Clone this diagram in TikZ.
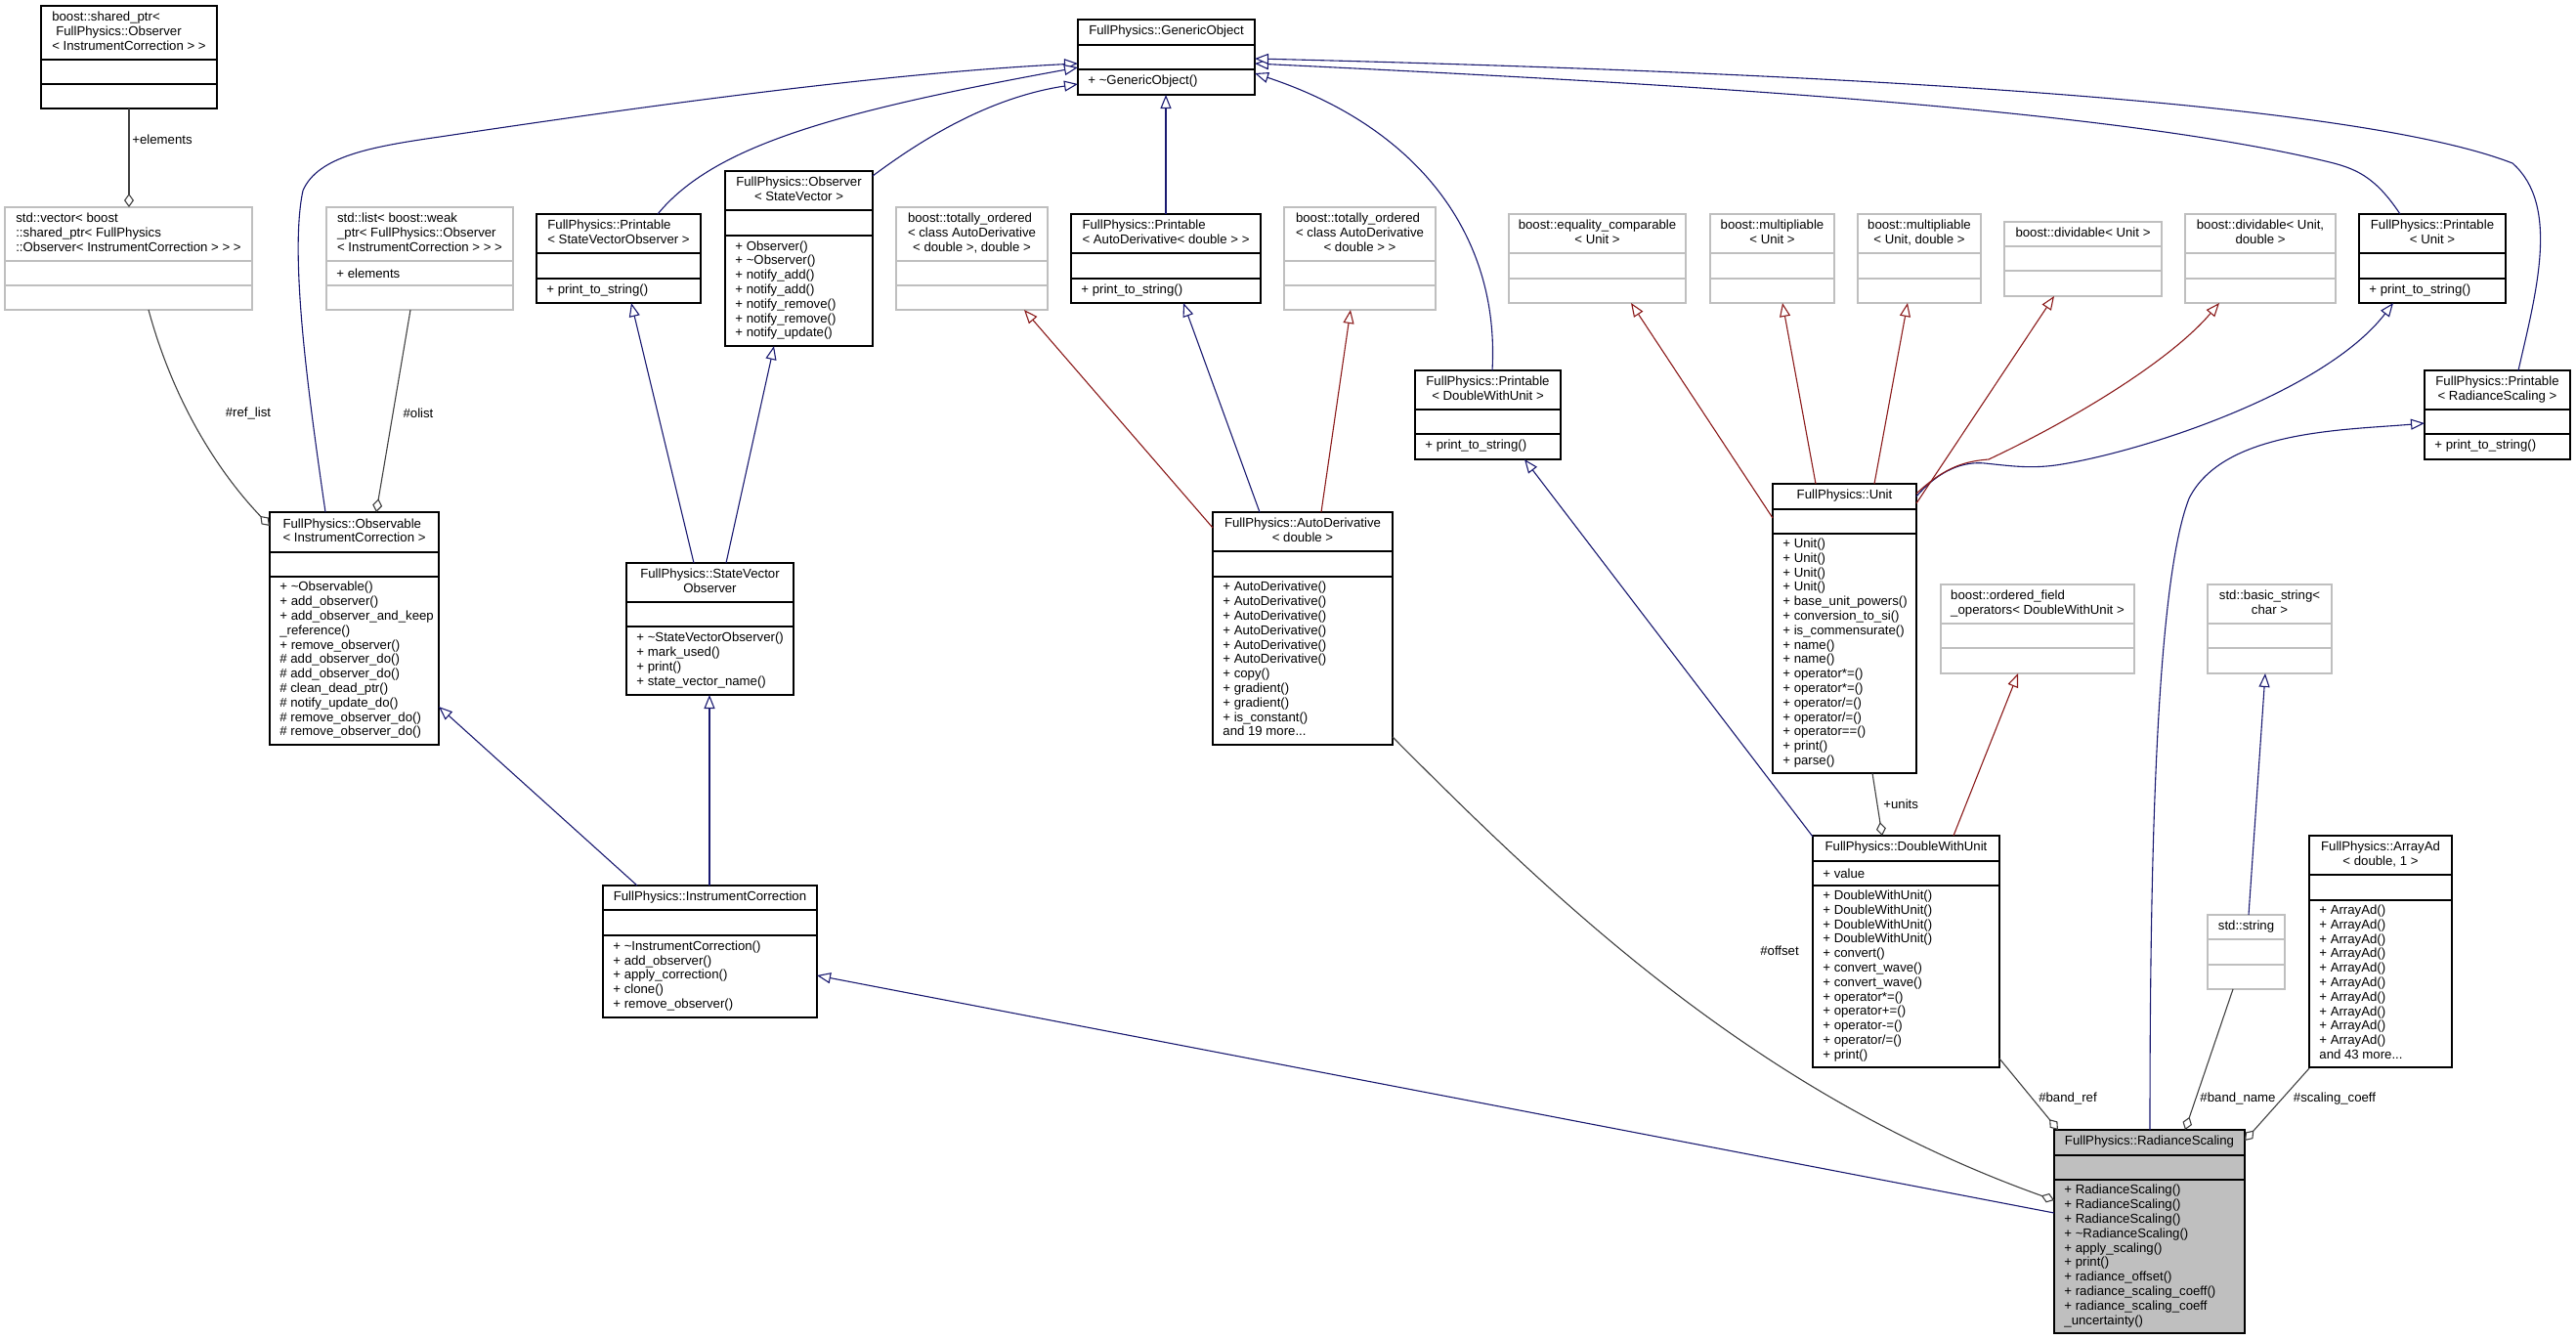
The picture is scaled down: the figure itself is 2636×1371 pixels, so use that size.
\documentclass[tikz,border=0pt]{standalone}
\usepackage{fontspec}
\setmainfont{Liberation Sans}
\usetikzlibrary{arrows.meta}
\definecolor{dblue}{HTML}{191970}
\definecolor{dred}{HTML}{8B1A1A}
\definecolor{dgray}{HTML}{404040}
\definecolor{lgray}{HTML}{BFBFBF}
\newcommand\lastln[1]{\multicolumn{1}{@{}c@{}}{#1}}
% name, style, x1, y1, x2, y2, sep1, sep2, title
\newcommand\ubox[9]{%
 \node[#2, anchor=north west, minimum width={(#5-#3)*0.5pt}, minimum height={(#6-#4)*0.5pt}] (#1) at (#3,#4) {};
 \draw[#2 sep] ([shift={(0,#7-#4)}]#1.north west) -- ([shift={(0,#7-#4)}]#1.north east);
 \draw[#2 sep] ([shift={(0,#8-#4)}]#1.north west) -- ([shift={(0,#8-#4)}]#1.north east);
 \node[txt] (#1-t) at ([shift={(0,#7/2-#4/2)}]#1.north) {\begin{tabular}{@{}l@{}}#9\end{tabular}};
}
% name, section height, lines
\newcommand\umem[3]{\node[txt, anchor=west] (#1-m) at ([shift={(10,-#2/2)}]#1.south west) {\begin{tabular}{@{}l@{}}#3\end{tabular}};}
\newcommand\uatt[3]{\node[txt, anchor=west] (#1-a) at ([shift={(10,#2)}]#1.north west) {#3};}
\begin{document}
\begin{tikzpicture}[x=0.5pt,y=-0.5pt,
 txt/.style={font=\fontsize{6.6}{7.4}\selectfont, inner sep=0pt, text=black},
 blk/.style={draw=black, line width=0.7pt, fill=white, outer sep=0pt, inner sep=0pt},
 blk sep/.style={draw=black, line width=0.7pt},
 gry/.style={draw=lgray, line width=0.7pt, fill=white, outer sep=0pt, inner sep=0pt},
 gry sep/.style={draw=lgray, line width=0.7pt},
 rsb/.style={draw=black, line width=0.7pt, fill=lgray, outer sep=0pt, inner sep=0pt},
 rsb sep/.style={draw=black, line width=0.7pt},
 inh/.style={draw=dblue, line width=0.55pt, -{Triangle[length=7pt,width=5.5pt,fill=white]}},
 inr/.style={draw=dred, line width=0.55pt, -{Triangle[length=7pt,width=5.5pt,fill=white]}},
 use/.style={draw=dgray, line width=0.55pt, -{Diamond[length=7pt,width=5pt,fill=white]}},
]
\useasboundingbox (0,0) rectangle (2636,1371);

% ---------- boxes ----------
\ubox{sp}{blk}{42}{6}{222}{111}{61}{86}{boost::shared\_ptr<\\ \hspace{2pt}FullPhysics::Observer\\ \lastln{< InstrumentCorrection > >}}
\ubox{vec}{gry}{5}{212}{258}{317}{267}{292}{std::vector< boost\\ ::shared\_ptr< FullPhysics\\ \lastln{::Observer< InstrumentCorrection > > >}}
\ubox{lst}{gry}{334}{212}{525}{317}{267}{292}{std::list< boost::weak\\ \_ptr< FullPhysics::Observer\\ \lastln{< InstrumentCorrection > > >}}
\uatt{lst}{67.5}{+ elements}
\ubox{psvo}{blk}{549}{219}{717}{310}{259}{285}{FullPhysics::Printable\\ \lastln{< StateVectorObserver >}}
\umem{psvo}{25}{+ print\_to\_string()}
\ubox{obs}{blk}{742}{175}{893}{354}{215}{241}{FullPhysics::Observer\\ \lastln{< StateVector >}}
\umem{obs}{113}{+ Observer()\\+ \textasciitilde Observer()\\+ notify\_add()\\+ notify\_add()\\+ notify\_remove()\\+ notify\_remove()\\+ notify\_update()}
\ubox{go}{blk}{1103}{20}{1284}{97}{46}{71}{FullPhysics::GenericObject}
\umem{go}{26}{+ \textasciitilde GenericObject()}
\ubox{to1}{gry}{917}{212}{1072}{317}{267}{292}{boost::totally\_ordered\\ < class AutoDerivative\\ \lastln{< double >, double >}}
\ubox{pad}{blk}{1096}{219}{1290}{310}{259}{285}{FullPhysics::Printable\\ \lastln{< AutoDerivative< double > >}}
\umem{pad}{25}{+ print\_to\_string()}
\ubox{to2}{gry}{1314}{212}{1469}{317}{267}{292}{boost::totally\_ordered\\ < class AutoDerivative\\ \lastln{< double > >}}
\ubox{pdwu}{blk}{1448}{379}{1597}{470}{419}{444}{FullPhysics::Printable\\ \lastln{< DoubleWithUnit >}}
\umem{pdwu}{26}{+ print\_to\_string()}
\ubox{eq}{gry}{1544}{219}{1725}{310}{259}{285}{boost::equality\_comparable\\ \lastln{< Unit >}}
\ubox{mu}{gry}{1750}{219}{1877}{310}{259}{285}{boost::multipliable\\ \lastln{< Unit >}}
\ubox{mud}{gry}{1901}{219}{2027}{310}{259}{285}{boost::multipliable\\ \lastln{< Unit, double >}}
\ubox{dv}{gry}{2051}{227}{2212}{303}{252}{277}{boost::dividable< Unit >}
\ubox{dvd}{gry}{2236}{219}{2390}{310}{259}{285}{boost::dividable< Unit,\\ \lastln{double >}}
\ubox{pu}{blk}{2414}{219}{2564}{310}{259}{285}{FullPhysics::Printable\\ \lastln{< Unit >}}
\umem{pu}{25}{+ print\_to\_string()}
\ubox{prs}{blk}{2481}{379}{2630}{470}{419}{444}{FullPhysics::Printable\\ \lastln{< RadianceScaling >}}
\umem{prs}{26}{+ print\_to\_string()}
\ubox{obsv}{blk}{276}{524}{449}{762}{565}{590}{FullPhysics::Observable\\ \lastln{< InstrumentCorrection >}}
\umem{obsv}{172}{+ \textasciitilde Observable()\\+ add\_observer()\\+ add\_observer\_and\_keep\\\_reference()\\+ remove\_observer()\\\# add\_observer\_do()\\\# add\_observer\_do()\\\# clean\_dead\_ptr()\\\# notify\_update\_do()\\\# remove\_observer\_do()\\\# remove\_observer\_do()}
\ubox{svo}{blk}{641}{576}{812}{711}{616}{641}{FullPhysics::StateVector\\ \lastln{Observer}}
\umem{svo}{70}{+ \textasciitilde StateVectorObserver()\\+ mark\_used()\\+ print()\\+ state\_vector\_name()}
\ubox{ic}{blk}{617}{906}{836}{1041}{931}{957}{FullPhysics::InstrumentCorrection}
\umem{ic}{84}{+ \textasciitilde InstrumentCorrection()\\+ add\_observer()\\+ apply\_correction()\\+ clone()\\+ remove\_observer()}
\ubox{ad}{blk}{1241}{524}{1425}{762}{564}{590}{FullPhysics::AutoDerivative\\ \lastln{< double >}}
\umem{ad}{172}{+ AutoDerivative()\\+ AutoDerivative()\\+ AutoDerivative()\\+ AutoDerivative()\\+ AutoDerivative()\\+ AutoDerivative()\\+ copy()\\+ gradient()\\+ gradient()\\+ is\_constant()\\and 19 more...}
\ubox{unit}{blk}{1814}{495}{1961}{791}{521}{546}{FullPhysics::Unit}
\umem{unit}{245}{+ Unit()\\+ Unit()\\+ Unit()\\+ Unit()\\+ base\_unit\_powers()\\+ conversion\_to\_si()\\+ is\_commensurate()\\+ name()\\+ name()\\+ operator*=()\\+ operator*=()\\+ operator/=()\\+ operator/=()\\+ operator==()\\+ print()\\+ parse()}
\ubox{ofo}{gry}{1986}{598}{2184}{689}{638}{663}{boost::ordered\_field\\ \lastln{\_operators< DoubleWithUnit >}}
\ubox{bs}{gry}{2259}{598}{2386}{689}{638}{663}{std::basic\_string<\\ \lastln{char >}}
\ubox{dwu}{blk}{1855}{855}{2046}{1092}{881}{906}{FullPhysics::DoubleWithUnit}
\uatt{dwu}{38.5}{+ value}
\umem{dwu}{186}{+ DoubleWithUnit()\\+ DoubleWithUnit()\\+ DoubleWithUnit()\\+ DoubleWithUnit()\\+ convert()\\+ convert\_wave()\\+ convert\_wave()\\+ operator*=()\\+ operator+=()\\+ operator-=()\\+ operator/=()\\+ print()}
\ubox{str}{gry}{2259}{936}{2338}{1012}{961}{987}{std::string}
\ubox{aad}{blk}{2363}{855}{2509}{1092}{895}{921}{FullPhysics::ArrayAd\\ \lastln{< double, 1 >}}
\umem{aad}{171}{+ ArrayAd()\\+ ArrayAd()\\+ ArrayAd()\\+ ArrayAd()\\+ ArrayAd()\\+ ArrayAd()\\+ ArrayAd()\\+ ArrayAd()\\+ ArrayAd()\\+ ArrayAd()\\and 43 more...}
\ubox{rs}{rsb}{2102}{1156}{2297}{1364}{1182}{1207}{FullPhysics::RadianceScaling}
\umem{rs}{157}{+ RadianceScaling()\\+ RadianceScaling()\\+ RadianceScaling()\\+ \textasciitilde RadianceScaling()\\+ apply\_scaling()\\+ print()\\+ radiance\_offset()\\+ radiance\_scaling\_coeff()\\+ radiance\_scaling\_coeff\\\_uncertainty()}

% ---------- public inheritance (blue) ----------
\draw[inh] ([shift={(57,0)}]obsv.north west) .. controls (315,400) and (296,260) .. (310,195) .. controls (325,160) and (380,150) .. (450,140) .. controls (650,110) and (900,75) .. ([shift={(0,45)}]go.north west);
\draw[inh] ([shift={(124,0)}]psvo.north west) .. controls (730,150) and (850,115) .. ([shift={(0,49)}]go.north west);
\draw[inh] ([shift={(151,5)}]obs.north west) .. controls (940,145) and (1010,100) .. ([shift={(0,66)}]go.north west);
\draw[inh] ([shift={(97,0)}]pad.north west) -- ([shift={(90,77)}]go.north west);
\draw[inh] ([shift={(79,0)}]pdwu.north west) .. controls (1535,240) and (1450,130) .. ([shift={(181,55)}]go.north west);
\draw[inh] ([shift={(42,0)}]pu.north west) .. controls (2430,180) and (2410,172) .. (2380,165) .. controls (2150,110) and (1700,85) .. ([shift={(181,45)}]go.north west);
\draw[inh] ([shift={(96,0)}]prs.north west) .. controls (2595,300) and (2620,210) .. (2571,167) .. controls (2450,120) and (2100,80) .. ([shift={(181,40)}]go.north west);
\draw[inh] ([shift={(69,0)}]svo.north west) -- ([shift={(97,91)}]psvo.north west);
\draw[inh] ([shift={(102,0)}]svo.north west) -- ([shift={(50,179)}]obs.north west);
\draw[inh] ([shift={(35,0)}]ic.north west) -- ([shift={(173,199)}]obsv.north west);
\draw[inh] ([shift={(109,0)}]ic.north west) -- ([shift={(85,135)}]svo.north west);
\draw[inh] ([shift={(48,0)}]ad.north west) -- ([shift={(115,91)}]pad.north west);
\draw[inh] ([shift={(0,1)}]dwu.north west) -- ([shift={(112,91)}]pdwu.north west);
\draw[inh] ([shift={(147,13)}]unit.north west) .. controls (1985,480) and (2010,472) .. (2031,474) .. controls (2060,477) and (2080,480) .. (2110,475) .. controls (2200,460) and (2380,400) .. ([shift={(35,91)}]pu.north west);
\draw[inh] ([shift={(42,0)}]str.north west) -- ([shift={(59,91)}]bs.north west);
\draw[inh] ([shift={(98,0)}]rs.north west) .. controls (2200,900) and (2205,600) .. (2240,510) .. controls (2275,440) and (2400,440) .. ([shift={(0,54)}]prs.north west);
\draw[inh] ([shift={(0,85)}]rs.north west) -- ([shift={(219,92)}]ic.north west);

% ---------- other inheritance (red) ----------
\draw[inr] ([shift={(0,16)}]ad.north west) -- ([shift={(131,105)}]to1.north west);
\draw[inr] ([shift={(111,0)}]ad.north west) -- ([shift={(68,105)}]to2.north west);
\draw[inr] ([shift={(0,35)}]unit.north west) -- ([shift={(125,91)}]eq.north west);
\draw[inr] ([shift={(44,0)}]unit.north west) -- ([shift={(74,91)}]mu.north west);
\draw[inr] ([shift={(104,0)}]unit.north west) -- ([shift={(51,91)}]mud.north west);
\draw[inr] ([shift={(147,20)}]unit.north west) -- ([shift={(51,76)}]dv.north west);
\draw[inr] ([shift={(147,10)}]unit.north west) .. controls (1990,478) and (2010,472) .. (2035,470) .. controls (2120,430) and (2220,370) .. ([shift={(35,91)}]dvd.north west);
\draw[inr] ([shift={(144,0)}]dwu.north west) -- ([shift={(79,91)}]ofo.north west);

% ---------- usage (gray, diamond) ----------
\draw[use] ([shift={(90,105)}]sp.north west) -- ([shift={(127,0)}]vec.north west);
\draw[use] ([shift={(147,105)}]vec.north west) .. controls (180,420) and (230,490) .. ([shift={(0,14)}]obsv.north west);
\draw[use] ([shift={(86,105)}]lst.north west) -- ([shift={(109,0)}]obsv.north west);
\draw[use] ([shift={(102,296)}]unit.north west) -- ([shift={(71,0)}]dwu.north west);
\draw[use] ([shift={(184,230)}]ad.north west) .. controls (1600,930) and (1800,1120) .. ([shift={(0,72)}]rs.north west);
\draw[use] ([shift={(191,228)}]dwu.north west) -- ([shift={(4,0)}]rs.north west);
\draw[use] ([shift={(26,76)}]str.north west) -- ([shift={(134,0)}]rs.north west);
\draw[use] ([shift={(0,238)}]aad.north west) -- ([shift={(195,11)}]rs.north west);

% ---------- edge labels ----------
\node[txt, anchor=west] (l-elem) at (135,143) {+elements};
\node[txt] (l-ref) at (254,423) {\#ref\_list};
\node[txt] (l-olist) at (428,423) {\#olist};
\node[txt, anchor=west] (l-units) at (1927,823) {+units};
\node[txt] (l-off) at (1821,973) {\#offset};
\node[txt] (l-bref) at (2116,1124) {\#band\_ref};
\node[txt] (l-bname) at (2290,1124) {\#band\_name};
\node[txt] (l-scal) at (2389,1124) {\#scaling\_coeff};
\end{tikzpicture}
\end{document}
